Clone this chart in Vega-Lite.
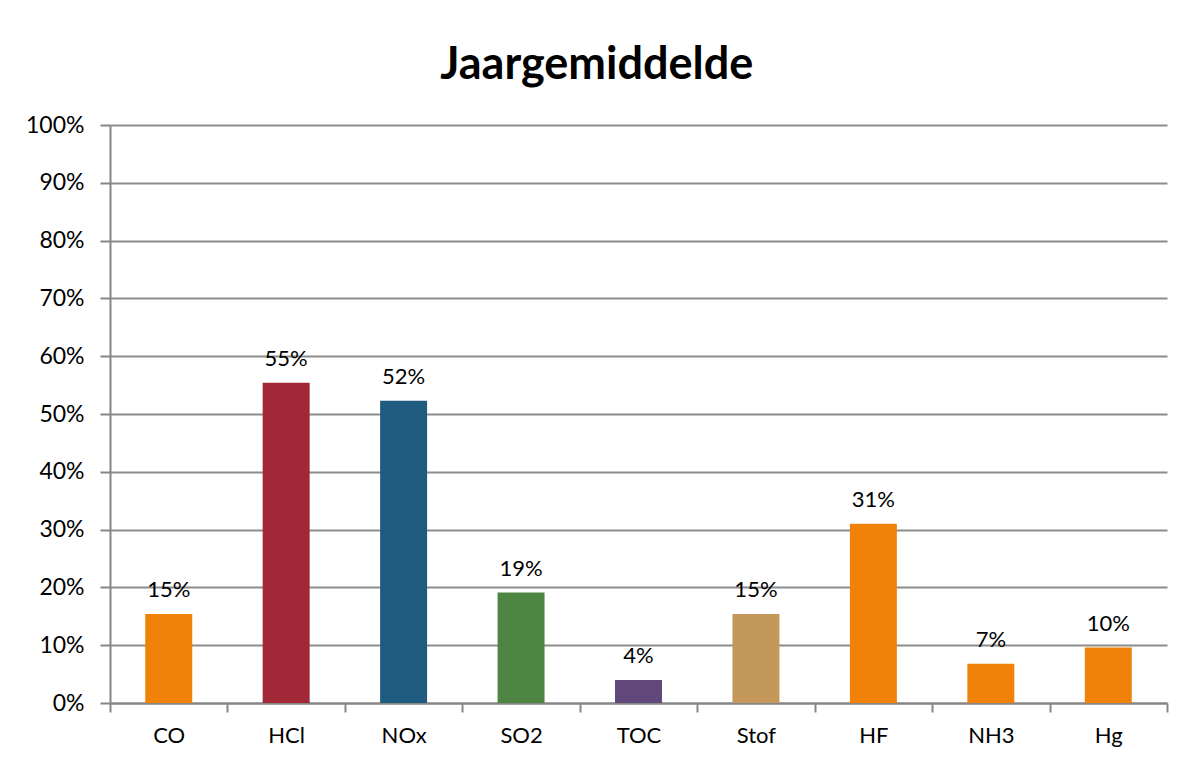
{
  "$schema": "https://vega.github.io/schema/vega-lite/v6.json",
  "width": 1057,
  "height": 578,
  "autosize": {"type": "none"},
  "padding": {"left": 110, "top": 125, "right": 17, "bottom": 57},
  "background": "white",
  "title": {
    "text": "Jaargemiddelde",
    "font": "Lato",
    "fontSize": 45,
    "fontWeight": "bold",
    "color": "#000000",
    "anchor": "middle",
    "frame": "bounds",
    "offset": 26
  },
  "data": {
    "values": [
      {"stof": "CO", "waarde": 0.154, "kleur": "#F0820A"},
      {"stof": "HCl", "waarde": 0.554, "kleur": "#A02837"},
      {"stof": "NOx", "waarde": 0.523, "kleur": "#1F5B7E"},
      {"stof": "SO2", "waarde": 0.191, "kleur": "#4E8542"},
      {"stof": "TOC", "waarde": 0.040, "kleur": "#60497A"},
      {"stof": "Stof", "waarde": 0.154, "kleur": "#C4985A"},
      {"stof": "HF", "waarde": 0.310, "kleur": "#F0820A"},
      {"stof": "NH3", "waarde": 0.068, "kleur": "#F0820A"},
      {"stof": "Hg", "waarde": 0.096, "kleur": "#F0820A"}
    ]
  },
  "encoding": {
    "x": {
      "field": "stof",
      "type": "nominal",
      "sort": null,
      "scale": {"paddingInner": 0, "paddingOuter": 0},
      "axis": {
        "title": null,
        "labelAngle": 0,
        "labelFont": "Lato",
        "labelFontSize": 22,
        "labelColor": "#000000",
        "labelPadding": 13,
        "tickBand": "extent",
        "tickSize": 9,
        "tickColor": "#868686",
        "tickWidth": 2,
        "domainColor": "#868686",
        "domainWidth": 2,
        "grid": false
      }
    },
    "y": {
      "field": "waarde",
      "type": "quantitative",
      "scale": {"domain": [0, 1], "nice": false},
      "axis": {
        "title": null,
        "format": ".0%",
        "values": [0, 0.1, 0.2, 0.3, 0.4, 0.5, 0.6, 0.7, 0.8, 0.9, 1],
        "labelFont": "Lato",
        "labelFontSize": 23,
        "labelColor": "#000000",
        "labelPadding": 16,
        "tickSize": 10,
        "tickColor": "#868686",
        "tickWidth": 2,
        "domainColor": "#868686",
        "domainWidth": 2,
        "grid": true,
        "gridColor": "#8c8c8c",
        "gridWidth": 2
      }
    }
  },
  "layer": [
    {
      "mark": {"type": "bar", "width": {"band": 0.4}},
      "encoding": {
        "color": {"field": "kleur", "type": "nominal", "scale": null}
      }
    },
    {
      "mark": {"type": "text", "baseline": "bottom", "dy": -12, "font": "Lato", "fontSize": 22, "color": "#000000"},
      "encoding": {
        "text": {"field": "waarde", "type": "quantitative", "format": ".0%"}
      }
    }
  ],
  "config": {
    "view": {"stroke": null}
  }
}
